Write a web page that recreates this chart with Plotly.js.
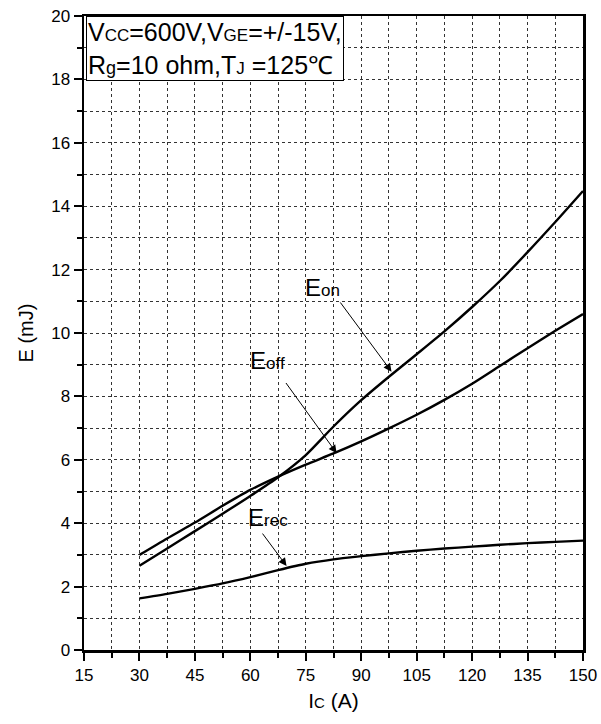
<!DOCTYPE html>
<html>
<head>
<meta charset="utf-8">
<script src="https://cdn.plot.ly/plotly-3.0.1.min.js"></script>
<style>html,body{margin:0;padding:0;background:#fff;}#chart{width:601px;height:724px;}</style>
</head>
<body>
<div id="chart"></div>
<script>
// Collector current (A)
const Ic = [30, 37.5, 45, 52.5, 60, 67.5, 75, 82.5, 90, 97.5, 105, 112.5, 120, 127.5, 135, 142.5, 150];
// Switching energies (mJ)
const Eon  = [2.66, 3.2, 3.75, 4.3, 4.86, 5.45, 6.15, 7.05, 7.88, 8.62, 9.33, 10.05, 10.82, 11.64, 12.55, 13.5, 14.48];
const Eoff = [3.0, 3.52, 4.02, 4.55, 5.05, 5.47, 5.85, 6.2, 6.58, 6.99, 7.42, 7.89, 8.4, 8.96, 9.52, 10.07, 10.6];
const Erec = [1.63, 1.77, 1.93, 2.1, 2.3, 2.52, 2.72, 2.86, 2.96, 3.05, 3.13, 3.2, 3.26, 3.32, 3.37, 3.41, 3.45];

const xTicks = [15, 30, 45, 60, 75, 90, 105, 120, 135, 150];
const yTicks = [0, 2, 4, 6, 8, 10, 12, 14, 16, 18, 20];

const FONT = "Arial, 'Liberation Sans', sans-serif";
const sm = (t, s) => "<span style='font-size:" + s + "px'>" + t + "</span>";

const lineStyle = {color: '#000', width: 2.4, shape: 'spline', smoothing: 0.7};
const traces = [
  {x: Ic, y: Eon,  mode: 'lines', line: lineStyle, name: 'Eon'},
  {x: Ic, y: Eoff, mode: 'lines', line: lineStyle, name: 'Eoff'},
  {x: Ic, y: Erec, mode: 'lines', line: lineStyle, name: 'Erec'}
];

const arrow = (x, y, ax, ay) => ({
  x: x, y: y, ax: ax, ay: ay, xref: 'x', yref: 'y', axref: 'x', ayref: 'y',
  text: '', showarrow: true, arrowhead: 2, arrowsize: 1.6, arrowwidth: 1, arrowcolor: '#000'
});
const label = (x, y, main, sub) => ({
  x: x, y: y, xref: 'x', yref: 'y', showarrow: false,
  text: main + sm(sub, 17), font: {family: FONT, size: 24, color: '#000'}
});

const layout = {
  width: 601, height: 724,
  margin: {l: 84, r: 18, t: 16, b: 74},
  paper_bgcolor: '#fff', plot_bgcolor: '#fff',
  showlegend: false,
  font: {family: FONT, color: '#000'},
  xaxis: {
    range: [15, 150], tickvals: xTicks, ticktext: xTicks.map(String),
    ticks: 'outside', ticklen: 8, tickwidth: 2, tickcolor: '#000',
    showline: true, linewidth: 2.5, linecolor: '#000', mirror: true,
    showgrid: true, gridcolor: '#333', gridwidth: 1, griddash: 'dot',
    zeroline: false,
    minor: {dtick: 7.5, ticks: 'outside', ticklen: 5, tickwidth: 2, tickcolor: '#000',
            showgrid: true, gridcolor: '#333', gridwidth: 1, griddash: 'dot'},
    tickfont: {family: FONT, size: 17, color: '#000'},
    title: {text: 'I' + sm('C', 15) + ' (A)', font: {family: FONT, size: 21, color: '#000'}, standoff: 10}
  },
  yaxis: {
    range: [0, 20], tickvals: yTicks, ticktext: yTicks.map(String),
    ticks: 'outside', ticklen: 8, tickwidth: 2, tickcolor: '#000',
    showline: true, linewidth: 2.5, linecolor: '#000', mirror: true,
    showgrid: true, gridcolor: '#333', gridwidth: 1, griddash: 'dot',
    zeroline: false,
    minor: {dtick: 1, ticks: 'outside', ticklen: 5, tickwidth: 2, tickcolor: '#000',
            showgrid: true, gridcolor: '#333', gridwidth: 1, griddash: 'dot'},
    tickfont: {family: FONT, size: 17, color: '#000'},
    title: {text: 'E (mJ)', font: {family: FONT, size: 20, color: '#000'}, standoff: 12}
  },
  annotations: [
    {
      xref: 'paper', yref: 'paper', x: 0.004, y: 1, xanchor: 'left', yanchor: 'top',
      showarrow: false, align: 'left',
      text: 'V' + sm('CC', 17) + '=600V,V' + sm('GE', 17) + '=+/-15V,<br>R' + sm('g', 18) + '=10 ohm,T' + sm('J', 17) + ' =125℃',
      font: {family: FONT, size: 25, color: '#000'},
      bgcolor: '#fff', bordercolor: '#000', borderwidth: 1, borderpad: 1
    },
    label(79.4, 11.45, 'E', 'on'),
    label(64.7, 9.12, 'E', 'off'),
    label(64.7, 4.17, 'E', 'rec'),
    arrow(98.2, 8.78, 84.05, 11.01),
    arrow(83.35, 6.21, 69.35, 8.47),
    arrow(69.8, 2.65, 63.0, 3.72)
  ]
};

Plotly.newPlot('chart', traces, layout, {staticPlot: true, displayModeBar: false});
</script>
</body>
</html>
